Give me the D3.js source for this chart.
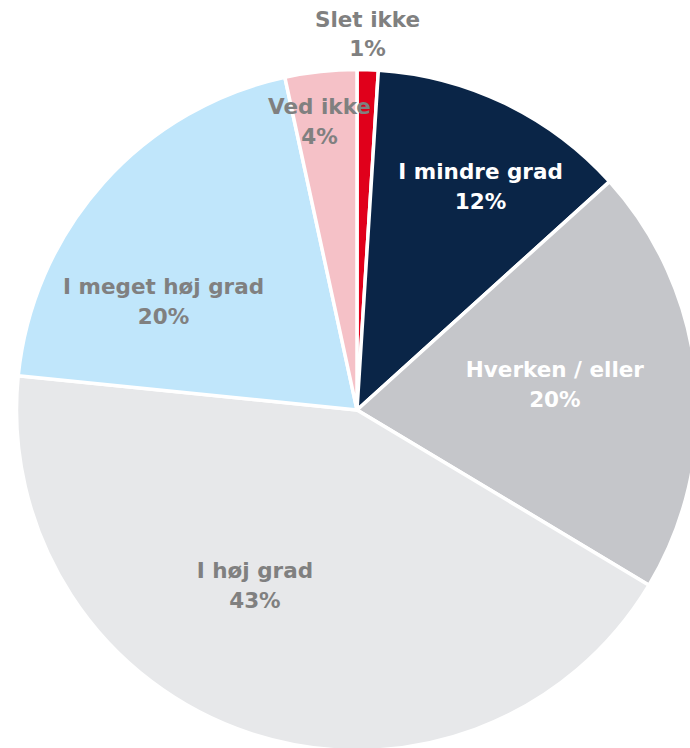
<!DOCTYPE html>
<html>
<head>
<meta charset="utf-8">
<script src="https://cdn.jsdelivr.net/npm/d3@7"></script>
<style>
  html, body { margin: 0; padding: 0; background: #ffffff; }
  svg { display: block; }
  text { font-family: "DejaVu Sans", "Open Sans", sans-serif; font-weight: 700; }
</style>
</head>
<body>
<svg id="chart" width="690" height="748"></svg>
<script>
// ---- data ----
const categories = ["Slet ikke", "I mindre grad", "Hverken / eller", "I høj grad", "I meget høj grad", "Ved ikke"];
const values = [1.0, 12.3, 20.3, 43.0, 20.0, 3.4];
const percentLabels = ["1%", "12%", "20%", "43%", "20%", "4%"];
const colors = ["#e0001b", "#0a2547", "#c5c6ca", "#e7e8ea", "#c0e6fb", "#f5c1c7"];
const labelColors = ["#808080", "#ffffff", "#ffffff", "#808080", "#808080", "#808080"];

// ---- layout ----
const W = 690, H = 748;
const cx = 357, cy = 410, R = 340.5;
// label placement (angle in degrees clockwise from top, radius as fraction of R)
const labelPlacement = [
  { a: 1.6, r: 1.105 },
  { a: 28.9, r: 0.751 },
  { a: 82.6, r: 0.586 },
  { a: 210.2, r: 0.596 },
  { a: 299.4, r: 0.652 },
  { a: 352.6, r: 0.855 }
];

const svg = d3.select("#chart");
const g = svg.append("g").attr("transform", `translate(${cx},${cy})`);

const data = categories.map((c, i) => ({ name: c, value: values[i], pct: percentLabels[i], i }));
const pie = d3.pie().value(d => d.value).sort(null);
const arc = d3.arc().innerRadius(0).outerRadius(R);

g.selectAll("path.slice")
  .data(pie(data))
  .join("path")
  .attr("class", "slice")
  .attr("d", arc)
  .attr("fill", d => colors[d.data.i])
  .attr("stroke", "#ffffff")
  .attr("stroke-width", 3.5)
  .attr("stroke-linejoin", "round");

const labels = g.selectAll("g.label")
  .data(data)
  .join("g")
  .attr("class", "label")
  .attr("transform", d => {
    const p = labelPlacement[d.i];
    const ang = p.a * Math.PI / 180;
    return `translate(${Math.sin(ang) * p.r * R},${-Math.cos(ang) * p.r * R})`;
  });

labels.append("text")
  .attr("text-anchor", "middle")
  .attr("y", -7)
  .attr("font-size", 21.5)
  .attr("fill", d => labelColors[d.i])
  .text(d => d.name);

labels.append("text")
  .attr("text-anchor", "middle")
  .attr("y", 22.5)
  .attr("font-size", 21.5)
  .attr("fill", d => labelColors[d.i])
  .text(d => d.pct);
</script>
</body>
</html>
